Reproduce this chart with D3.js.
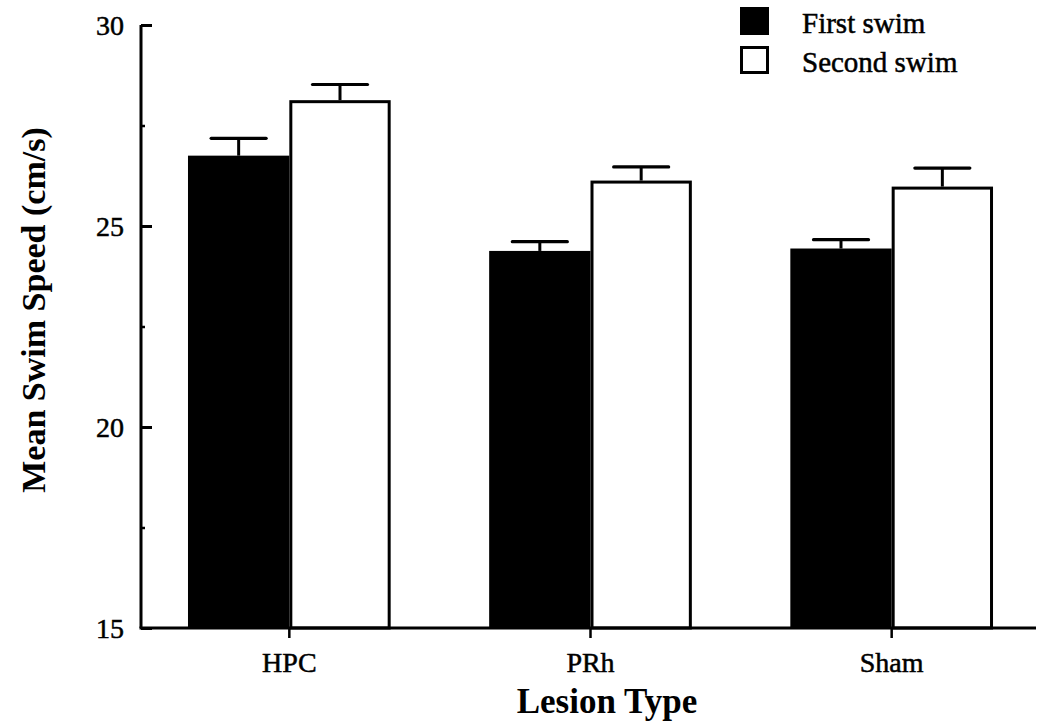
<!DOCTYPE html>
<html>
<head>
<meta charset="utf-8">
<script src="https://cdn.jsdelivr.net/npm/d3@7"></script>
<style>
  html, body { margin: 0; padding: 0; background: #fff; }
  svg { display: block; }
  text { font-family: "Liberation Serif", "Times New Roman", serif; fill: #000; }
</style>
</head>
<body>
<svg id="chart" width="1042" height="727"></svg>
<script>
const categories = ["HPC", "PRh", "Sham"];
const seriesNames = ["First swim", "Second swim"];
const firstSwim = [26.75, 24.38, 24.44];
const firstSwimErr = [0.43, 0.23, 0.22];
const secondSwim = [28.13, 26.13, 25.98];
const secondSwimErr = [0.39, 0.34, 0.46];
const yTicks = [15, 20, 25, 30];
const yMinorTicks = [17.5, 22.5, 27.5];

const svg = d3.select("#chart");
const mLeft = 141, mRight = 1036, mTop = 25, mBottom = 628;

const x = d3.scaleBand().domain(categories).range([mLeft, 1040])
  .paddingInner(0.327).paddingOuter(0.156);
const sub = d3.scaleBand().domain(seriesNames).range([0, x.bandwidth()]);
const y = d3.scaleLinear().domain([15, 30]).range([mBottom, mTop]);

const data = [];
categories.forEach((c, i) => {
  data.push({cat: c, s: seriesNames[0], v: firstSwim[i], e: firstSwimErr[i]});
  data.push({cat: c, s: seriesNames[1], v: secondSwim[i], e: secondSwimErr[i]});
});

// error bars (upward only)
const capW = 55;
const eb = svg.append("g");
data.forEach(d => {
  const cx = x(d.cat) + sub(d.s) + sub.bandwidth() / 2;
  eb.append("line").attr("x1", cx).attr("x2", cx)
    .attr("y1", y(d.v)).attr("y2", y(d.v + d.e))
    .attr("stroke", "#000").attr("stroke-width", 3);
  eb.append("line").attr("x1", cx - capW / 2).attr("x2", cx + capW / 2)
    .attr("y1", y(d.v + d.e)).attr("y2", y(d.v + d.e))
    .attr("stroke", "#000").attr("stroke-width", 3.2).attr("stroke-linecap", "round");
});

// bars
svg.append("g").selectAll("rect").data(data).join("rect")
  .attr("x", d => x(d.cat) + sub(d.s) + (d.s === seriesNames[1] ? 1.5 : 0))
  .attr("width", d => sub.bandwidth() - (d.s === seriesNames[1] ? 3 : 0))
  .attr("y", d => y(d.v) + (d.s === seriesNames[1] ? 1.5 : 0))
  .attr("height", d => y(15) - y(d.v) - (d.s === seriesNames[1] ? 1.5 : 0))
  .attr("fill", d => d.s === seriesNames[0] ? "#000" : "#fff")
  .attr("stroke", d => d.s === seriesNames[0] ? "none" : "#000")
  .attr("stroke-width", 3);

// y axis
const yAxis = d3.axisRight(y).tickValues(yTicks).tickSize(11).tickFormat(d3.format("d"));
const gy = svg.append("g").attr("transform", `translate(${mLeft},0)`).call(yAxis);
gy.select(".domain").attr("stroke-width", 3).attr("d", `M0,${mTop}V${mBottom}`);
gy.selectAll(".tick line").attr("stroke-width", 3);
gy.selectAll(".tick text").attr("x", -17).attr("text-anchor", "end")
  .attr("font-size", 28).attr("dy", "0.34em");
const gym = svg.append("g").attr("transform", `translate(${mLeft},0)`)
  .call(d3.axisRight(y).tickValues(yMinorTicks).tickSize(4).tickFormat(""));
gym.select(".domain").remove();
gym.selectAll(".tick line").attr("stroke-width", 2.5);

// x axis
const xAxis = d3.axisBottom(x).tickSize(10).tickSizeOuter(0);
const gx = svg.append("g").attr("transform", `translate(0,${mBottom})`).call(xAxis);
gx.select(".domain").attr("stroke-width", 3).attr("d", `M${mLeft - 1.5},0H${mRight}`);
gx.selectAll(".tick line").attr("stroke-width", 2.5);
gx.selectAll(".tick text").attr("font-size", 28).attr("y", 44).attr("dy", 0);
[gx, gy].forEach(g => g.selectAll("text")
  .attr("font-family", "Liberation Serif, serif").attr("fill", "#000")
  .attr("stroke", "#000").attr("stroke-width", 0.5));

// axis titles
svg.append("text").attr("x", 607).attr("y", 713).attr("text-anchor", "middle")
  .attr("font-size", 35).attr("font-weight", "bold").text("Lesion Type");
svg.append("text").attr("transform", "translate(45,310) rotate(-90)")
  .attr("text-anchor", "middle").attr("font-size", 34).attr("font-weight", "bold")
  .text("Mean Swim Speed (cm/s)");

// legend
const lg = svg.append("g");
seriesNames.forEach((s, i) => {
  const yy = 7 + i * 39;
  lg.append("rect").attr("x", i === 0 ? 740 : 741.5).attr("y", i === 0 ? yy : yy + 1.5)
    .attr("width", i === 0 ? 29 : 26).attr("height", i === 0 ? 28 : 25)
    .attr("fill", i === 0 ? "#000" : "#fff")
    .attr("stroke", i === 0 ? "none" : "#000").attr("stroke-width", 3);
  lg.append("text").attr("x", 802).attr("y", yy + 26).attr("font-size", 29)
    .attr("stroke", "#000").attr("stroke-width", 0.5).text(s);
});
</script>
</body>
</html>
